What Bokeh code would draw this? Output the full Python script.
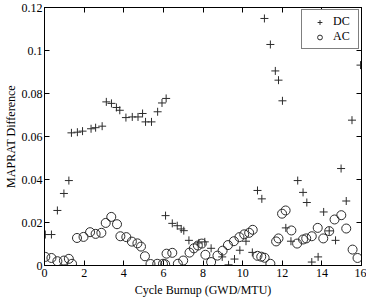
from bokeh.plotting import figure
from bokeh.models import (FixedTicker, LinearAxis, Range1d, Legend, LegendItem,
                          CustomLabelingPolicy)
from bokeh.embed import file_html
from bokeh.resources import INLINE

# ---- data ----
dc_x = [0.04, 0.35, 0.65, 0.98, 1.23, 1.36, 1.66, 1.92, 2.35, 2.58, 2.91,
        3.12, 3.38, 3.63, 3.80, 4.11, 4.43, 4.72, 4.95, 5.10, 5.40, 5.71,
        5.93, 6.14, 6.11, 6.45, 6.70, 6.90, 7.03, 7.29, 7.79, 8.09, 8.41,
        8.97, 9.29, 9.59, 9.86, 10.17, 10.49, 10.75, 10.97, 11.10, 11.40,
        11.65, 11.81, 12.01, 12.18, 12.44, 12.78, 13.05, 13.24, 13.49,
        13.81, 14.09, 14.37, 14.69, 14.97, 15.23, 15.52, 15.95]
dc_y = [0.0144, 0.0144, 0.0256, 0.0335, 0.0395, 0.0617, 0.0620, 0.0625,
        0.0636, 0.0641, 0.0648, 0.0761, 0.0754, 0.0735, 0.0722, 0.0688,
        0.0691, 0.0691, 0.0707, 0.0668, 0.0668, 0.0715, 0.0756, 0.0777,
        0.0232, 0.0196, 0.0185, 0.0170, 0.0162, 0.0117, 0.0105, 0.0110,
        0.0080, 0.0040, 0.0003, 0.0030, 0.0071, 0.0113, 0.0061, 0.0349,
        0.0310, 0.1149, 0.1028, 0.0905, 0.0862, 0.0766, 0.0175, 0.0113,
        0.0395, 0.0340, 0.0293, 0.0016, 0.0040, 0.0249, 0.0161, 0.0117,
        0.0451, 0.0300, 0.0676, 0.0932]

ac_x = [0.04, 0.35, 0.65, 0.98, 1.23, 1.39, 1.64, 1.97, 2.30, 2.58, 2.87,
        3.09, 3.37, 3.66, 3.83, 4.13, 4.41, 4.69, 4.87, 5.07, 5.35, 5.69,
        5.98, 6.09, 6.16, 6.45, 6.73, 7.00, 7.32, 7.54, 7.74, 7.94, 8.12,
        8.41, 8.73, 8.99, 9.26, 9.56, 9.84, 10.08, 10.33, 10.51, 10.75,
        10.94, 11.11, 11.40, 11.69, 11.81, 11.99, 12.17, 12.46, 12.75,
        13.05, 13.21, 13.49, 13.79, 14.07, 14.37, 14.64, 14.98, 15.23,
        15.55, 15.80]
ac_y = [0.0040, 0.0035, 0.0020, 0.0023, 0.0031, 0.0008, 0.0128, 0.0133,
        0.0155, 0.0147, 0.0152, 0.0198, 0.0226, 0.0192, 0.0136, 0.0132,
        0.0111, 0.0103, 0.0088, 0.0043, 0.0007, 0.0008, 0.0008, 0.0006,
        0.0055, 0.0059, 0.0008, 0.0023, 0.0060, 0.0080, 0.0093, 0.0102,
        0.0050, 0.0016, 0.0046, 0.0069, 0.0095, 0.0113, 0.0132, 0.0145,
        0.0152, 0.0166, 0.0045, 0.0041, 0.0036, 0.0008, 0.0112, 0.0126,
        0.0241, 0.0256, 0.0163, 0.0102, 0.0121, 0.0126, 0.0136, 0.0175,
        0.0126, 0.0160, 0.0214, 0.0234, 0.0172, 0.0074, 0.0035]

x_ticks = [0, 2, 4, 6, 8, 10, 12, 14, 16]
y_ticks = [0, 0.02, 0.04, 0.06, 0.08, 0.1, 0.12]
y_tick_labels = ["0", "0.02", "0.04", "0.06", "0.08", "0.1", "0.12"]

FONT = "Liberation Serif"
FS = "12px"
MARK = "#2b2b2b"

p = figure(width=366, height=302, output_backend="svg", toolbar_location=None,
           x_range=Range1d(0, 16), y_range=Range1d(0, 0.12),
           min_border_left=38, min_border_right=4, min_border_top=7,
           min_border_bottom=37)
p.grid.visible = False
p.outline_line_color = "black"
p.background_fill_color = "white"
p.border_fill_color = "white"

dc = p.scatter(dc_x, dc_y, marker="cross", size=8, line_color=MARK,
               line_width=1)
ac = p.scatter(ac_x, ac_y, marker="circle", size=9, line_color=MARK,
               fill_color=None, line_width=1)

hide_all = CustomLabelingPolicy(code="""
    for (const i of indices) {
        indices.unset(i)
    }
    return indices
""")


def style_axis(ax, ticks, labels=True):
    ax.ticker = FixedTicker(ticks=ticks)
    ax.major_tick_in = 5
    ax.major_tick_out = 0
    ax.minor_tick_in = 0
    ax.minor_tick_out = 0
    ax.axis_line_color = "black"
    ax.major_tick_line_color = "black"
    ax.major_label_text_font = FONT
    ax.major_label_text_font_size = FS if labels else "1px"
    ax.major_label_text_color = "black"
    ax.axis_label_text_font = FONT
    ax.axis_label_text_font_size = FS
    ax.axis_label_text_font_style = "normal"
    ax.axis_label_text_color = "black"
    if not labels:
        ax.major_label_policy = hide_all
        ax.major_label_standoff = 0


style_axis(p.xaxis[0], x_ticks)
style_axis(p.yaxis[0], y_ticks)
p.xaxis[0].axis_label = "Cycle Burnup (GWD/MTU)"
p.yaxis[0].axis_label = "MAPRAT Difference"
p.xaxis[0].major_label_standoff = 3
p.xaxis[0].axis_label_standoff = 3
p.yaxis[0].major_label_standoff = 2
p.yaxis[0].axis_label_standoff = 1
p.yaxis[0].major_label_overrides = {t: l for t, l in zip(y_ticks, y_tick_labels)}

top = LinearAxis()
style_axis(top, x_ticks, labels=False)
right = LinearAxis()
style_axis(right, y_ticks, labels=False)
p.add_layout(top, "above")
p.add_layout(right, "right")

legend = Legend(items=[LegendItem(label="DC", renderers=[dc]),
                       LegendItem(label="AC", renderers=[ac])],
                location="top_right")
legend.label_text_font = FONT
legend.label_text_font_size = FS
legend.label_text_color = "black"
legend.border_line_color = "black"
legend.border_line_width = 1
legend.background_fill_alpha = 1
legend.padding = 4
legend.spacing = 0
legend.margin = 2
legend.label_height = 12
legend.glyph_height = 12
legend.glyph_width = 27
legend.label_standoff = 0
legend.label_width = 21
p.add_layout(legend, "center")

open("out.html", "w").write(file_html(p, INLINE))
